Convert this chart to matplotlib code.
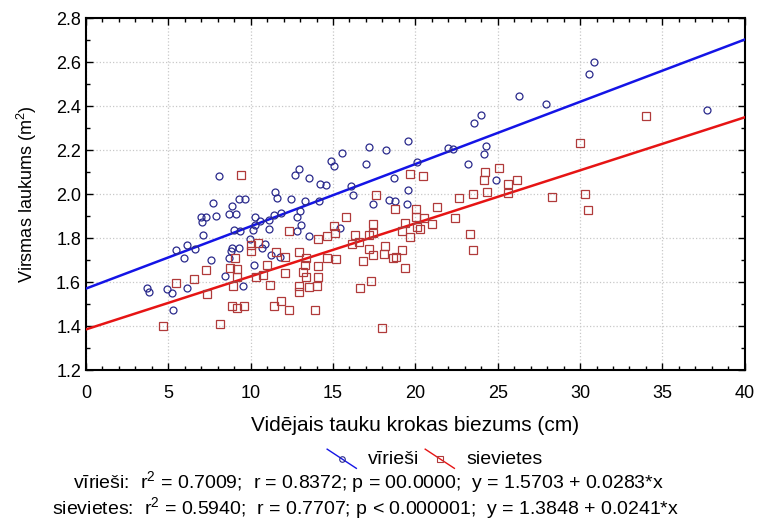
import matplotlib
matplotlib.use("Agg")
import matplotlib.pyplot as plt
import numpy as np
from matplotlib.lines import Line2D
from matplotlib.legend_handler import HandlerBase
from matplotlib.ticker import MultipleLocator

plt.rcParams['font.family'] = ['Liberation Sans', 'DejaVu Sans']
plt.rcParams['mathtext.fontset'] = 'custom'
plt.rcParams['mathtext.rm'] = 'Liberation Sans'
plt.rcParams['mathtext.it'] = 'Liberation Sans:italic'

# men: skinfold thickness (cm) vs body surface area (m2)
men_x = [3.68, 3.84, 4.94, 5.20, 5.26, 5.50, 5.97, 6.15, 6.15, 6.64,
         6.96, 7.28, 7.04, 7.12, 7.69, 7.89, 7.57, 8.09, 8.66, 8.86,
         9.10, 8.98, 9.35, 9.27, 9.63, 8.90, 8.80, 8.66, 9.30, 8.46,
         9.55, 9.95, 10.24, 10.56, 10.28, 10.16, 10.20, 10.72, 10.87, 11.09,
         11.09, 11.49, 11.58, 11.45, 11.85, 11.25, 11.78, 12.46, 12.70, 12.91,
         12.79, 12.99, 13.03, 12.83, 13.55, 13.31, 13.55, 14.20, 14.57, 14.16,
         14.85, 15.05, 15.54, 16.07, 16.19, 17.00, 17.40, 18.70, 18.41, 18.76,
         19.56, 19.52, 15.45, 20.10, 17.20, 18.21, 19.56, 22.00, 22.30, 23.55,
         23.96, 24.28, 24.16, 23.19, 24.92, 26.30, 27.92, 30.55, 30.83, 37.71]
men_y = [1.572, 1.553, 1.567, 1.549, 1.474, 1.747, 1.709, 1.768, 1.575, 1.752,
         1.895, 1.895, 1.872, 1.816, 1.960, 1.898, 1.700, 2.082, 1.910, 1.946,
         1.910, 1.837, 1.831, 1.978, 1.978, 1.755, 1.739, 1.709, 1.755, 1.628,
         1.583, 1.797, 1.895, 1.877, 1.858, 1.837, 1.679, 1.755, 1.773, 1.843,
         1.880, 2.010, 1.983, 1.907, 1.915, 1.721, 1.712, 1.976, 2.087, 2.113,
         1.895, 1.922, 1.861, 1.831, 2.072, 1.968, 1.811, 2.044, 2.040, 1.968,
         2.151, 2.128, 2.186, 2.037, 1.995, 2.136, 1.953, 2.072, 1.971, 1.968,
         2.017, 1.956, 1.846, 2.146, 2.215, 2.200, 2.239, 2.209, 2.203, 2.321,
         2.358, 2.218, 2.184, 2.136, 2.063, 2.445, 2.407, 2.547, 2.600, 2.383]

# women
women_x = [9.43, 4.69, 8.13, 5.46, 6.56, 7.36, 7.28, 8.74, 9.06, 9.18,
           9.18, 8.94, 8.86, 9.18, 9.59, 10.00, 10.03, 10.44, 10.32, 10.76,
           10.97, 11.17, 11.45, 11.85, 12.34, 11.57, 12.10, 12.06, 12.34, 12.95,
           13.39, 13.31, 13.19, 13.35, 12.91, 12.95, 13.52, 13.88, 14.12, 14.12,
           14.12, 14.00, 14.61, 15.05, 15.13, 14.61, 15.21, 15.82, 16.35, 16.59,
           17.64, 17.40, 17.16, 17.44, 17.16, 17.40, 16.83, 16.67, 17.28, 18.00,
           18.17, 18.09, 18.66, 18.74, 19.18, 19.18, 19.38, 19.70, 19.38, 20.03,
           20.07, 20.10, 19.70, 20.47, 24.22, 24.16, 25.05, 25.63, 26.18, 22.66,
           23.51, 24.36, 25.63, 29.98, 33.99, 28.32, 30.31, 30.51, 21.32, 20.52,
           21.00, 20.27, 22.42, 23.31, 23.51, 18.82, 16.15]
women_y = [2.085, 1.401, 1.410, 1.598, 1.616, 1.547, 1.653, 1.666, 1.709, 1.660,
           1.621, 1.584, 1.493, 1.480, 1.493, 1.770, 1.739, 1.776, 1.621, 1.633,
           1.679, 1.587, 1.493, 1.514, 1.471, 1.736, 1.712, 1.642, 1.834, 1.736,
           1.709, 1.679, 1.648, 1.625, 1.584, 1.557, 1.579, 1.471, 1.797, 1.671,
           1.621, 1.584, 1.809, 1.855, 1.822, 1.709, 1.706, 1.895, 1.816, 1.782,
           1.995, 1.864, 1.816, 1.823, 1.752, 1.721, 1.694, 1.575, 1.605, 1.392,
           1.765, 1.727, 1.709, 1.930, 1.831, 1.745, 1.869, 1.803, 1.663, 1.930,
           1.895, 1.849, 2.093, 2.082, 2.102, 2.063, 2.117, 2.047, 2.065, 1.983,
           2.001, 2.010, 2.006, 2.232, 2.353, 1.986, 1.998, 1.928, 1.941, 1.892,
           1.864, 1.843, 1.892, 1.819, 1.747, 1.715, 1.773]

# fitted lines: intercept, slope
men_fit = (1.5703, 0.0283)
women_fit = (1.3848, 0.0241)

men_stats = r"vīrieši:  r$^{\mathrm{2}}$ = 0.7009;  r = 0.8372; p = 00.0000;  y = 1.5703 + 0.0283*x"
women_stats = r"sievietes:  r$^{\mathrm{2}}$ = 0.5940;  r = 0.7707; p < 0.000001;  y = 1.3848 + 0.0241*x"


class SlantHandler(HandlerBase):
    # short diagonal line with the marker in the middle
    def create_artists(self, legend, orig_handle, xdescent, ydescent,
                       width, height, fontsize, trans):
        ln = Line2D([0, width], [height + 1, -3], color=orig_handle.get_color(),
                    lw=1.0, transform=trans)
        mk = Line2D([width / 2], [(height - 2) / 2], marker=orig_handle.get_marker(),
                    ms=4, mfc='none', mec=orig_handle.get_markeredgecolor(),
                    mew=0.8, ls='none', transform=trans)
        return [ln, mk]


fig = plt.figure(figsize=(7.6, 5.22), dpi=100)
ax = fig.add_axes([0.113, 0.291, 0.867, 0.6745])

xx = np.array([0, 40])
ax.plot(xx, men_fit[0] + men_fit[1] * xx, color='#1414e6', lw=1.8, zorder=3)
ax.plot(xx, women_fit[0] + women_fit[1] * xx, color='#e61414', lw=1.8, zorder=3)
ax.plot(men_x, men_y, 'o', ms=5, mfc='none', mec='#2a2a8c', mew=0.9, zorder=4)
ax.plot(women_x, women_y, 's', ms=5.5, mfc='none', mec='#b03a3a', mew=0.9, zorder=4)

ax.set_xlim(0, 40)
ax.set_ylim(1.2, 2.8)
ax.xaxis.set_major_locator(MultipleLocator(5))
ax.xaxis.set_minor_locator(MultipleLocator(1))
ax.yaxis.set_major_locator(MultipleLocator(0.2))
ax.yaxis.set_minor_locator(MultipleLocator(0.1))
ax.yaxis.set_major_formatter(plt.FormatStrFormatter('%.1f'))
ax.tick_params(which='both', direction='in', top=True, right=True, labelsize=13)
ax.tick_params(which='major', length=5, width=1)
ax.tick_params(which='minor', length=3, width=1)
ax.tick_params(axis='x', pad=11)
ax.grid(True, which='major', color='#c8c8c8', ls=':', lw=0.9)
for s in ax.spines.values():
    s.set_linewidth(1.5)

ax.set_xlabel('Vidējais tauku krokas biezums (cm)', fontsize=15, labelpad=10)
ax.set_ylabel(r'Virsmas laukums (m$^{\mathrm{2}}$)', fontsize=13, labelpad=12)

h_men = Line2D([], [], color='#1414e6', marker='o', mec='#2a2a8c')
h_women = Line2D([], [], color='#e61414', marker='s', mec='#b03a3a')
fig.legend([h_men, h_women], ['vīrieši', 'sievietes'],
           handler_map={Line2D: SlantHandler()}, loc='center',
           bbox_to_anchor=(0.572, 0.120), ncol=2, frameon=False, fontsize=14,
           handlelength=1.5, handletextpad=0.6, columnspacing=0.3)

fig.text(0.096, 0.076, men_stats, fontsize=14, va='center', ha='left')
fig.text(0.068, 0.026, women_stats, fontsize=14, va='center', ha='left')

fig.savefig('out.png', dpi=100)
